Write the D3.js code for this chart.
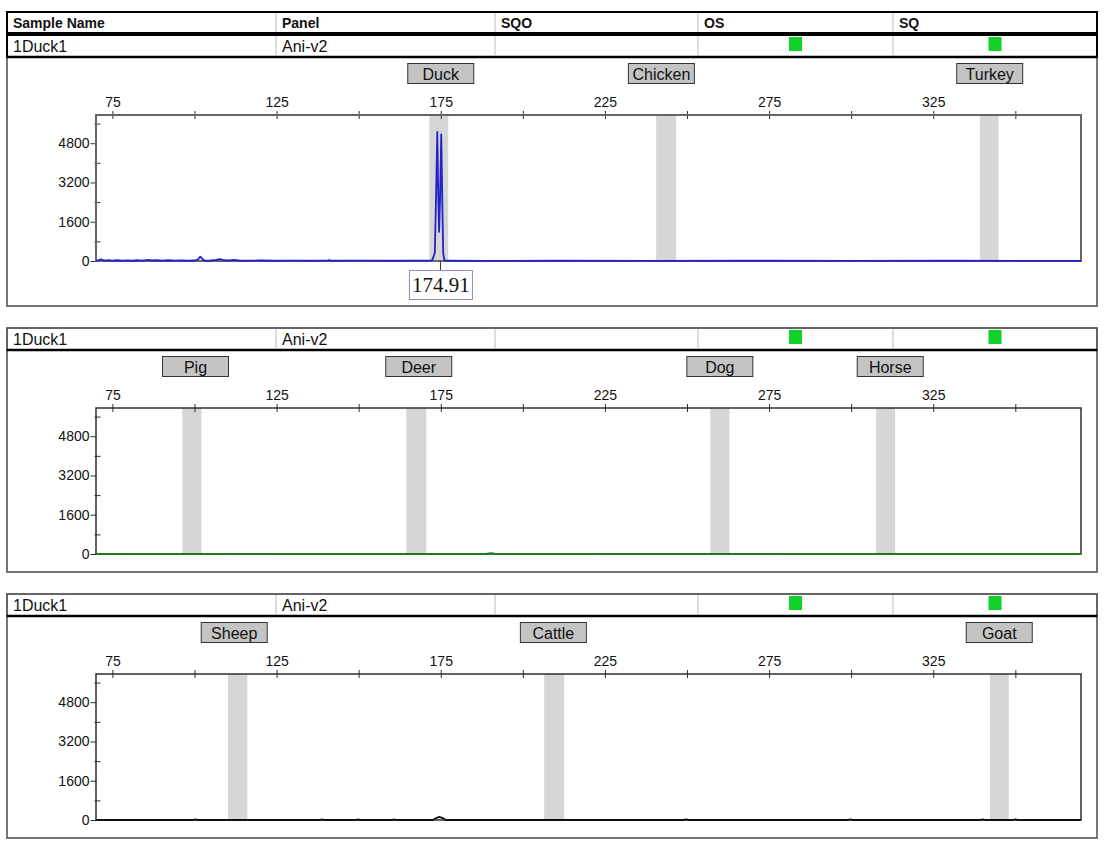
<!DOCTYPE html>
<html><head><meta charset="utf-8">
<script src="https://cdn.jsdelivr.net/npm/d3@7"></script>
<style>
body{margin:0;background:#fff}
svg{display:block}
text{font-family:"Liberation Sans",Arial,sans-serif;fill:#111}
text.serif{font-family:"Liberation Serif","Times New Roman",serif}
</style>
</head><body>
<svg id="c" width="1105" height="847"></svg>
<script>
// ---------- data ----------
const headerLabels = ["Sample Name", "Panel", "SQO", "OS", "SQ"];
const sampleName = "1Duck1";
const panelName = "Ani-v2";
const xMajorTicks = [75, 125, 175, 225, 275, 325];
const xMinorTicks = [100, 150, 200, 250, 300, 350];
const yMajorTicks = [0, 1600, 3200, 4800];
const yMinorTicks = [800, 2400, 4000, 5600];
const xDomain = [70, 370];
const yDomain = [0, 5950];

const markerNames1 = ["Duck", "Chicken", "Turkey"];
const markerLo1 = [171.5, 240.6, 339.2];
const markerHi1 = [177.3, 246.7, 344.9];
const markerLabelAt1 = [175.0, 242.2, 342.2];

const markerNames2 = ["Pig", "Deer", "Dog", "Horse"];
const markerLo2 = [96.3, 164.5, 257.1, 307.6];
const markerHi2 = [102.1, 170.6, 262.9, 313.4];
const markerLabelAt2 = [100.3, 168.3, 260.0, 311.9];

const markerNames3 = ["Sheep", "Cattle", "Goat"];
const markerLo3 = [110.2, 206.5, 342.3];
const markerHi3 = [116.1, 212.6, 348.0];
const markerLabelAt3 = [112.1, 209.3, 345.1];

// trace 1 (blue dye): [size bp, RFU]
const blueTrace = [
  [70,0],[70.8,40],[71.5,70],[72.2,30],[73,15],[74,40],[75,10],[76.5,30],[78,10],[79.5,25],
  [81,10],[82.5,30],[84,15],[86,45],[87,20],[88.5,30],[90,10],[92,30],[94,15],[96,25],
  [98,10],[100,20],[101,60],[101.8,180],[102.6,60],[103.4,10],[105,20],[106.5,45],[107.8,80],
  [109,30],[110.5,20],[112,45],[113.5,20],[116,10],[120,20],[125,10],[130,15],[135,10],
  [140.5,15],[141,40],[141.6,10],[150,15],[160,10],[170,15],[172.2,20],[172.6,90],[173.2,350],
  [173.6,2800],[173.95,5260],[174.25,2600],[174.5,1190],[174.8,2600],[175.15,5160],[175.45,2600],
  [175.75,300],[176.1,40],[177,10],[190,5],[210,10],[240,5],[270,10],[300,5],[330,10],[370,5]
];
// trace 2 (green dye)
const greenTrace = [
  [70,0],[120,5],[150,0],[188.8,0],[190.3,35],[191.8,0],[230,5],[300,0],[370,0]
];
// trace 3 (black dye)
const blackTrace = [
  [70,0],[99.5,0],[100.2,25],[101,0],[138,0],[138.7,20],[139.5,0],[149,0],[149.7,20],[150.5,0],
  [160,0],[160.7,20],[161.5,0],[172.6,0],[173.6,80],[174.6,130],[175.6,80],[176.6,0],
  [249,0],[249.8,25],[250.6,0],[299,0],[299.7,25],[300.5,0],[339.3,0],[340,25],[340.8,0],
  [349.3,0],[350,25],[350.8,0],[370,0]
];
const peakCallSize = 174.91;

// ---------- layout ----------
const svg = d3.select("#c");
const colX = [7, 276, 495, 698, 893, 1097];
const L = 7, R = 1097;
const panels = [
  {top: 35, bottom: 306, names: markerNames1, lo: markerLo1, hi: markerHi1, at: markerLabelAt1, trace: blueTrace, color: "#2222cc", call: true},
  {top: 328, bottom: 572, names: markerNames2, lo: markerLo2, hi: markerHi2, at: markerLabelAt2, trace: greenTrace, color: "#1e7a1e", call: false},
  {top: 594, bottom: 838, names: markerNames3, lo: markerLo3, hi: markerHi3, at: markerLabelAt3, trace: blackTrace, color: "#111", call: false}
];

// header row
svg.append("rect").attr("x", L).attr("y", 12).attr("width", R - L).attr("height", 21)
  .attr("fill", "#fff").attr("stroke", "#000").attr("stroke-width", 2);
colX.slice(1, -1).forEach(x => svg.append("line").attr("x1", x).attr("x2", x).attr("y1", 13).attr("y2", 32)
  .attr("stroke", "#bbb").attr("stroke-width", 1));
headerLabels.forEach((h, i) => svg.append("text").attr("x", colX[i] + 6).attr("y", 27.5)
  .attr("font-size", 14).attr("font-weight", "bold").text(h));

panels.forEach((p, pi) => {
  const P = p.top;
  // chart box
  svg.append("rect").attr("x", L).attr("y", P + 22).attr("width", R - L).attr("height", p.bottom - P - 22)
    .attr("fill", "#fff").attr("stroke", "#555").attr("stroke-width", 1.6);
  // sample row
  svg.append("rect").attr("x", L).attr("y", P).attr("width", R - L).attr("height", 22)
    .attr("fill", "#fff").attr("stroke", pi === 0 ? "#000" : "#333").attr("stroke-width", pi === 0 ? 2 : 1.5);
  svg.append("line").attr("x1", L).attr("x2", R).attr("y1", P + 22).attr("y2", P + 22)
    .attr("stroke", "#000").attr("stroke-width", 2.4);
  colX.slice(1, -1).forEach(x => svg.append("line").attr("x1", x).attr("x2", x).attr("y1", P + 1).attr("y2", P + 21)
    .attr("stroke", "#bbb").attr("stroke-width", 1));
  svg.append("text").attr("x", colX[0] + 6).attr("y", P + 16.5).attr("font-size", 16).text(sampleName);
  svg.append("text").attr("x", colX[1] + 6).attr("y", P + 16.5).attr("font-size", 16).text(panelName);
  [3, 4].forEach(ci => {
    const cx = (colX[ci] + colX[ci + 1]) / 2;
    svg.append("rect").attr("x", cx - 6.5).attr("y", P + 2).attr("width", 13).attr("height", 14).attr("fill", "#11d12a");
  });

  // scales
  const x = d3.scaleLinear().domain(xDomain).range([96, 1081]);
  const y = d3.scaleLinear().domain(yDomain).range([P + 226, P + 80]);
  const g = svg.append("g");

  // bins
  p.names.forEach((n, i) => {
    g.append("rect").attr("x", x(p.lo[i])).attr("y", y(yDomain[1])).attr("width", x(p.hi[i]) - x(p.lo[i]))
      .attr("height", y(0) - y(yDomain[1])).attr("fill", "#d6d6d6");
  });

  // marker labels
  p.names.forEach((n, i) => {
    const cx = x(p.at[i]);
    g.append("rect").attr("x", cx - 33).attr("y", P + 28.5).attr("width", 66).attr("height", 20)
      .attr("fill", "#c4c4c4").attr("stroke", "#333").attr("stroke-width", 1);
    g.append("text").attr("x", cx).attr("y", P + 44.5).attr("text-anchor", "middle").attr("font-size", 16).text(n);
  });

  // top axis
  const ax = d3.axisTop(x).tickValues(xMajorTicks.concat(xMinorTicks))
    .tickFormat(d => xMajorTicks.includes(d) ? d : "").tickSize(4).tickPadding(0);
  const axG = g.append("g").attr("transform", `translate(0,${y(yDomain[1])})`).call(ax);
  axG.select(".domain").remove();
  axG.selectAll(".tick line").attr("y1", 4).attr("y2", -4).attr("stroke", "#333");
  axG.selectAll(".tick text").attr("y", -8).attr("dy", 0).attr("font-size", 14).attr("fill", "#111");

  // left axis
  const ay = d3.axisLeft(y).tickValues(yMajorTicks).tickFormat(d3.format("d")).tickSize(6).tickPadding(1);
  const ayG = g.append("g").attr("transform", "translate(96.5,0)").call(ay);
  ayG.select(".domain").remove();
  ayG.selectAll(".tick line").attr("stroke", "#333");
  ayG.selectAll(".tick text").attr("font-size", 14).attr("fill", "#111");
  const ayMinor = d3.axisLeft(y).tickValues(yMinorTicks).tickSize(2).tickFormat("");
  const aymG = g.append("g").attr("transform", "translate(96.5,0)").call(ayMinor);
  aymG.select(".domain").remove();
  aymG.selectAll(".tick line").attr("x1", 4).attr("stroke", "#333");

  // frame
  g.append("rect").attr("x", x(xDomain[0])).attr("y", y(yDomain[1])).attr("width", x(xDomain[1]) - x(xDomain[0]))
    .attr("height", y(0) - y(yDomain[1])).attr("fill", "none")
    .attr("stroke", pi === 0 ? "#666" : "#222").attr("stroke-width", pi === 0 ? 2 : 1.4);

  // trace
  const line = d3.line().x(d => x(d[0])).y(d => y(d[1]));
  g.append("path").datum(p.trace).attr("d", line).attr("fill", "none")
    .attr("stroke", p.color).attr("stroke-width", 1.8).attr("stroke-linejoin", "round");

  // peak call label
  if (p.call) {
    const px = x(peakCallSize);
    g.append("line").attr("x1", px).attr("x2", px).attr("y1", y(0)).attr("y2", y(0) + 9)
      .attr("stroke", "#333").attr("stroke-width", 1);
    g.append("rect").attr("x", px - 31).attr("y", y(0) + 9.5).attr("width", 63).attr("height", 29)
      .attr("fill", "#fff").attr("stroke", "#8c8cd0").attr("stroke-width", 1);
    g.append("text").attr("class", "serif").attr("x", px + 0.5).attr("y", y(0) + 31).attr("text-anchor", "middle")
      .attr("font-size", 21).text(peakCallSize.toFixed(2));
  }
});
</script>
</body></html>
